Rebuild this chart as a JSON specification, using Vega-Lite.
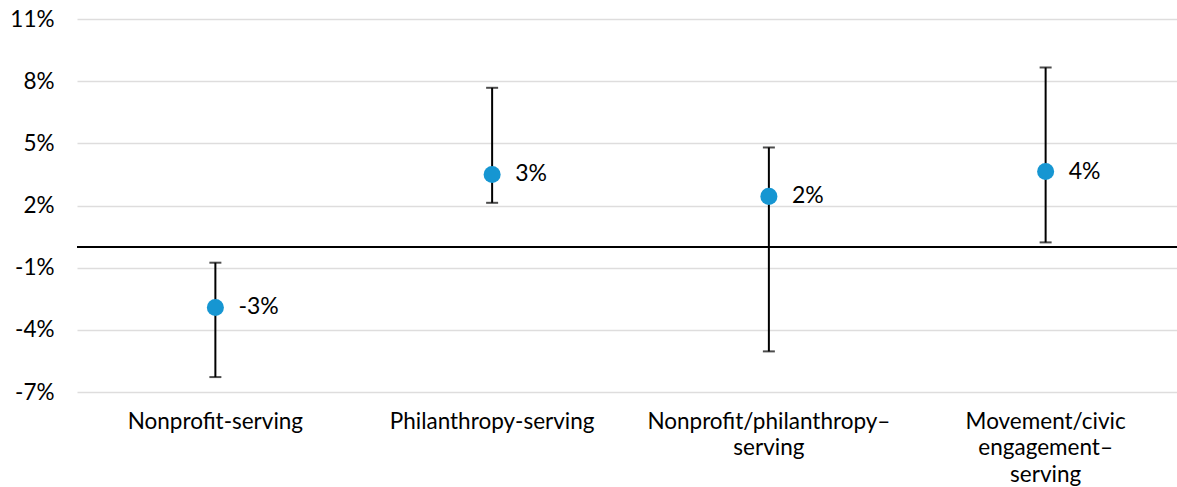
{
  "$schema": "https://vega.github.io/schema/vega-lite/v6.json",
  "autosize": {"type": "none"},
  "padding": {"left": 77, "top": 19, "right": 0, "bottom": 95},
  "width": 1100,
  "height": 373,
  "background": "white",
  "config": {
    "view": {"stroke": null},
    "font": "Lato",
    "axis": {"labelFont": "Lato", "labelColor": "#000000", "titleColor": "#000000"}
  },
  "data": {
    "values": [
      {"category": "Nonprofit-serving", "value": -2.92, "low": -6.28, "high": -0.76, "label": "-3%"},
      {"category": "Philanthropy-serving", "value": 3.5, "low": 2.13, "high": 7.68, "label": "3%"},
      {"category": "Nonprofit/philanthropy–serving", "value": 2.44, "low": -5.04, "high": 4.8, "label": "2%"},
      {"category": "Movement/civic engagement–serving", "value": 3.64, "low": 0.22, "high": 8.66, "label": "4%"}
    ]
  },
  "encoding": {
    "x": {
      "field": "category",
      "type": "nominal",
      "sort": null,
      "scale": {"paddingInner": 0, "paddingOuter": 0, "range": [0, 1107]},
      "axis": {
        "title": null,
        "domain": false,
        "ticks": false,
        "labelAngle": 0,
        "labelFontSize": 22.5,
        "labelLineHeight": 26.5,
        "labelPadding": 18,
        "labelLimit": 400,
        "labelExpr": "datum.value == 'Nonprofit/philanthropy–serving' ? ['Nonprofit/philanthropy–', 'serving'] : datum.value == 'Movement/civic engagement–serving' ? ['Movement/civic', 'engagement–', 'serving'] : datum.value"
      }
    }
  },
  "layer": [
    {
      "mark": {"type": "rule", "color": "#000000", "strokeWidth": 2},
      "encoding": {
        "y": {
          "field": "low",
          "type": "quantitative",
          "scale": {"domain": [-7, 11], "nice": false, "zero": false},
          "axis": {
            "title": null,
            "domain": false,
            "ticks": false,
            "values": [-7, -4, -1, 2, 5, 8, 11],
            "labelExpr": "datum.value + '%'",
            "labelFontSize": 22.5,
            "labelPadding": 23,
            "grid": true,
            "gridColor": "#dedddd",
            "gridWidth": 1.5
          }
        },
        "y2": {"field": "high"}
      }
    },
    {
      "mark": {"type": "rule", "color": "#000000", "strokeWidth": 2},
      "encoding": {"y": {"datum": 0, "type": "quantitative"}, "x": null}
    },
    {
      "mark": {"type": "tick", "color": "#000000", "orient": "horizontal", "size": 12, "thickness": 2},
      "encoding": {"y": {"field": "low", "type": "quantitative"}}
    },
    {
      "mark": {"type": "tick", "color": "#000000", "orient": "horizontal", "size": 12, "thickness": 2},
      "encoding": {"y": {"field": "high", "type": "quantitative"}}
    },
    {
      "mark": {"type": "point", "shape": "circle", "filled": true, "color": "#1696d2", "size": 290, "opacity": 1},
      "encoding": {"y": {"field": "value", "type": "quantitative"}}
    },
    {
      "mark": {"type": "text", "align": "left", "baseline": "middle", "dx": 23, "fontSize": 23, "color": "#000000", "font": "Lato"},
      "encoding": {"y": {"field": "value", "type": "quantitative"}, "text": {"field": "label"}}
    }
  ]
}
